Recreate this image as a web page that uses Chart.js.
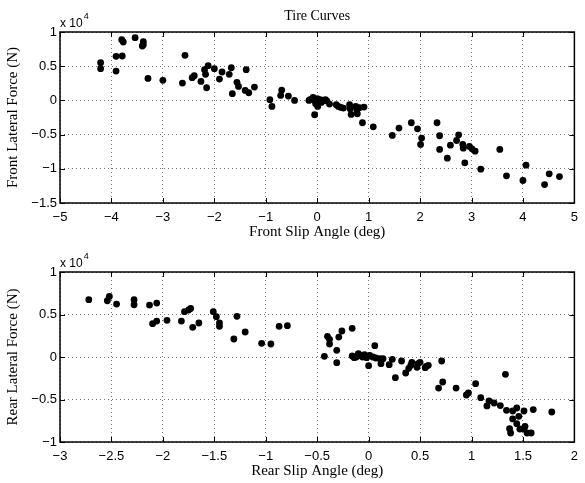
<!DOCTYPE html>
<html>
<head>
<meta charset="utf-8">
<script src="https://cdn.jsdelivr.net/npm/chart.js@4.4.0/dist/chart.umd.min.js"></script>
<style>
  body { margin: 0; background: #fff; }
  #wrap { position: relative; width: 585px; height: 483px; }
  canvas { position: absolute; left: 0; }
</style>
</head>
<body>
<div id="wrap">
  <canvas id="front" width="585" height="242" style="top:0"></canvas>
  <canvas id="rear" width="585" height="241" style="top:242px"></canvas>
</div>
<script>
const frontSlip = [
  -4.21, -4.21, -3.91, -3.91, -3.80, -3.77, -3.79, -3.54, -3.38, -3.38, -3.40, -3.29, -3.00,
  -2.62, -2.57, -2.43, -2.39, -2.26, -2.19, -2.17, -2.15, -2.12, -2.00, -1.90, -1.85, -1.71,
  -1.67, -1.65, -1.56, -1.53, -1.40, -1.38, -1.33, -1.22, -0.92, -0.88, -0.69, -0.71, -0.56,
  -0.44, -0.16, -0.13, -0.08, -0.05, -0.03, -0.01, 0.00, 0.01, -0.05, 0.03, 0.06, 0.08, 0.12,
  0.16, 0.19, 0.24, 0.37, 0.41, 0.46, 0.51, 0.63, 0.64, 0.66, 0.75, 0.77, 0.78, 0.82, 0.91,
  0.88, 1.09, 1.46, 1.59, 1.83, 1.95, 2.03, 2.01, 2.33, 2.38, 2.38, 2.53, 2.59, 2.71, 2.75,
  2.83, 2.84, 2.87, 2.96, 3.01, 3.07, 3.18, 3.55, 3.68, 4.00, 4.06, 4.42, 4.51, 4.71
];
const frontForce = [
  5510, 4640, 6440, 4290, 8880, 8540, 6490, 9170, 8590, 8150, 7950, 3220, 2930,
  2540, 6590, 3320, 3610, 2780, 4490, 3810, 1850, 5080, 4640, 3120, 4150, 3810,
  4780, 980, 2640, 2050, 1460, 4490, 1120, 1950, 100, -880, 1510, 730, 630,
  0, 0, 150, 440, 0, -490, -150, 240, -880, -2100, 0, 100, -290, 0,
  100, -100, -540, -630, -880, -1020, -1120, -630, -1220, -2050, -880, -1320, -1950, -1070, -980,
  -3270, -3860, -5120, -4050, -3270, -4150, -5510, -6440, -3270, -5170, -7170, -8440, -6540, -5860, -5030,
  -6440, -6980, -9130, -6730, -7080, -7420, -10050, -7170, -11030, -11710, -9470, -12300, -10740, -11130
];

const rearSlip = [
  -2.72, -2.54, -2.52, -2.45, -2.28, -2.28, -2.13, -2.06, -2.10, -2.06, -1.96, -1.82, -1.79,
  -1.75, -1.73, -1.71, -1.65, -1.51, -1.48, -1.45, -1.45, -1.31, -1.28, -1.20, -1.04, -0.95,
  -0.87, -0.79, -0.43, -0.40, -0.38, -0.38, -0.31, -0.31, -0.29, -0.26, -0.16, -0.16, -0.14,
  -0.12, -0.10, -0.08, -0.06, -0.04, -0.02, 0.00, 0.01, 0.04, 0.06, 0.07, 0.11, 0.12, 0.14,
  0.20, 0.23, 0.26, 0.32, 0.36, 0.39, 0.41, 0.42, 0.47, 0.48, 0.50, 0.55, 0.56, 0.58, 0.68,
  0.71, 0.72, 0.85, 0.95, 0.97, 1.04, 1.09, 1.15, 1.17, 1.22, 1.28, 1.33, 1.34, 1.37, 1.38,
  1.40, 1.40, 1.44, 1.44, 1.46, 1.47, 1.51, 1.51, 1.52, 1.54, 1.58, 1.60, 1.78
];
const rearForce = [
  6740, 6620, 7130, 6230, 6740, 6150, 6110, 6350, 3920, 4230, 4310, 4230, 5330,
  5530, 5720, 3490, 4000, 5330, 4740, 4000, 3610, 2120, 4780, 2940, 1610, 1530,
  3610, 3690, 80, 2430, 2080, 1530, 780, -670, 2350, 3060, 3370, 120, -80,
  0, 390, 200, 0, 270, -80, -1020, 200, 0, 1330, -120, -200, -780, -200,
  -900, -270, -2430, -470, -1880, -1330, -980, -630, -1220, -780, -630, -1250, -1100, -980, -3650,
  -470, -2940, -3650, -4470, -4230, -3140, -4780, -5760, -5170, -5410, -5720, -2040, -6270, -8430, -8940,
  -6350, -7290, -6000, -7840, -6980, -8470, -6350, -8470, -8150, -8940, -8940, -6190, -6470
];

const sans = '"Liberation Sans", Arial, sans-serif';
const serif = '"Liberation Serif", "Times New Roman", serif';

function fmt(v) {
  const r = Math.round(v * 100) / 100;
  return String(r).replace('-', '\u2212');
}

// frame, inward tick marks, title and the "x 10^4" exponent
const matlabAxes = {
  id: 'matlabAxes',
  afterDraw(chart, args, opts) {
    const ctx = chart.ctx;
    const a = chart.chartArea;
    const xs = chart.scales.x, ys = chart.scales.y;
    ctx.save();
    ctx.strokeStyle = '#000';
    ctx.lineWidth = 1;
    ctx.beginPath();
    xs.ticks.forEach(t => {
      const px = Math.round(xs.getPixelForValue(t.value)) + 0.5;
      ctx.moveTo(px, a.bottom); ctx.lineTo(px, a.bottom - 5);
      ctx.moveTo(px, a.top); ctx.lineTo(px, a.top + 5);
    });
    ys.ticks.forEach(t => {
      const py = Math.round(ys.getPixelForValue(t.value)) + 0.5;
      ctx.moveTo(a.left, py); ctx.lineTo(a.left + 5, py);
      ctx.moveTo(a.right, py); ctx.lineTo(a.right - 5, py);
    });
    ctx.stroke();
    ctx.lineWidth = 1.5;
    ctx.strokeRect(a.left, a.top, a.right - a.left, a.bottom - a.top);

    ctx.fillStyle = '#000';
    ctx.textBaseline = 'alphabetic';
    ctx.textAlign = 'left';
    ctx.font = '12px ' + sans;
    ctx.fillText('x 10', a.left, a.top - 5);
    const w = ctx.measureText('x 10').width;
    ctx.font = '9px ' + sans;
    ctx.fillText('4', a.left + w + 1, a.top - 13);

    if (opts.title) {
      ctx.font = '14px ' + serif;
      ctx.textAlign = 'center';
      ctx.fillText(opts.title, (a.left + a.right) / 2, a.top - 12);
    }
    ctx.restore();
  }
};

function makeChart(id, xs, ys, cfg) {
  const pts = xs.map((x, i) => ({ x: x, y: ys[i] }));
  return new Chart(document.getElementById(id), {
    type: 'scatter',
    data: {
      datasets: [{
        data: pts,
        backgroundColor: '#000',
        borderColor: '#000',
        pointRadius: 3.4,
        pointHoverRadius: 3.4,
        borderWidth: 0,
      }]
    },
    options: {
      responsive: false,
      animation: false,
      devicePixelRatio: 1,
      layout: { padding: { top: cfg.top, right: 5, left: 0, bottom: 0 } },
      plugins: {
        legend: { display: false },
        tooltip: { enabled: false },
        matlabAxes: { title: cfg.title },
      },
      scales: {
        x: {
          type: 'linear',
          min: cfg.xMin, max: cfg.xMax,
          ticks: { stepSize: cfg.xStep, color: '#000', font: { family: sans, size: 13 }, padding: 7, callback: v => fmt(v) },
          grid: { color: 'rgba(0,0,0,0.55)', drawTicks: false, lineWidth: 1 },
          border: { display: false, dash: [1, 3] },
          title: { display: true, text: cfg.xTitle, color: '#000', font: { family: serif, size: 15 }, padding: { top: 0, bottom: cfg.xTitlePad } },
          afterFit: s => { s.height = cfg.xHeight; },
        },
        y: {
          type: 'linear',
          min: cfg.yMin, max: cfg.yMax,
          ticks: { stepSize: 5000, color: '#000', font: { family: sans, size: 13 }, padding: 3, callback: v => fmt(v / 10000) },
          grid: { color: 'rgba(0,0,0,0.55)', drawTicks: false, lineWidth: 1 },
          border: { display: false, dash: [1, 3] },
          title: { display: true, text: cfg.yTitle, color: '#000', font: { family: serif, size: 15 }, padding: 4 },
          afterFit: s => { s.width = 60; },
        }
      }
    },
    plugins: [matlabAxes]
  });
}

makeChart('front', frontSlip, frontForce, {
  top: 32, title: 'Tire Curves',
  xMin: -5, xMax: 5, xStep: 1, yMin: -15000, yMax: 10000,
  xTitle: 'Front Slip Angle (deg)', yTitle: 'Front Lateral Force (N)',
  xHeight: 39, xTitlePad: 1,
});

makeChart('rear', rearSlip, rearForce, {
  top: 30, title: '',
  xMin: -3, xMax: 2, xStep: 0.5, yMin: -10000, yMax: 10000,
  xTitle: 'Rear Slip Angle (deg)', yTitle: 'Rear Lateral Force (N)',
  xHeight: 41, xTitlePad: 3,
});
</script>
</body>
</html>
